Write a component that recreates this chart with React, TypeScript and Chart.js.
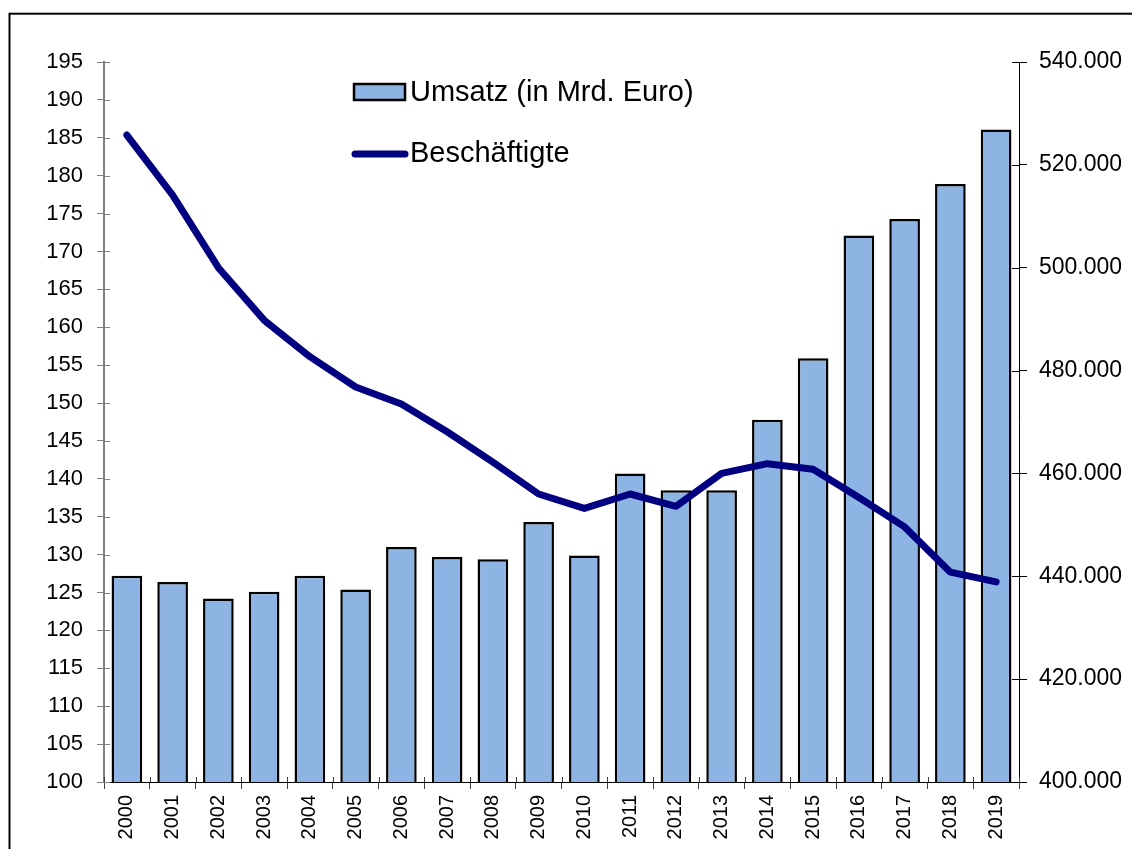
import React, { useEffect, useRef } from "react";
import { Chart, registerables } from "chart.js";

Chart.register(...registerables);

const years = ["2000","2001","2002","2003","2004","2005","2006","2007","2008","2009","2010","2011","2012","2013","2014","2015","2016","2017","2018","2019"];
const umsatz = [127.2,126.4,124.2,125.1,127.2,125.4,131.0,129.7,129.4,134.3,129.9,140.7,138.5,138.5,147.8,155.9,172.1,174.3,178.9,186.1];
const beschaeftigte = [525800,514100,500000,489800,482700,476800,473500,468100,462200,456000,453200,456000,453600,460000,461900,460800,455300,449600,440800,438900];

const leftMin = 100, leftMax = 195, leftStep = 5;
const rightMin = 400000, rightMax = 540000, rightStep = 20000;

const FONT = "'Liberation Sans', Arial, sans-serif";
const BAR_COLOR = "#8EB4E3";
const LINE_COLOR = "#000080";

const fmtDE = (v: number) => v.toLocaleString("de-DE");

const framePlugin = {
  id: "frame",
  beforeDraw(chart: any) {
    const ctx = chart.ctx;
    ctx.save();
    ctx.fillStyle = "#ffffff";
    ctx.fillRect(0, 0, chart.width, chart.height);
    ctx.strokeStyle = "#000000";
    ctx.lineWidth = 2;
    ctx.strokeRect(9.5, 13.7, chart.width + 50, chart.height + 50);
    ctx.restore();
  },
};

const innerTicksPlugin = {
  id: "innerTicks",
  afterDatasetsDraw(chart: any) {
    const ctx = chart.ctx;
    ctx.save();
    ctx.lineWidth = 1;
    const yl = chart.scales.y;
    const yr = chart.scales.y1;
    const xs = chart.scales.x;
    ctx.strokeStyle = "#808080";
    yl.ticks.forEach((_t: any, i: number) => {
      const p = Math.round(yl.getPixelForTick(i)) + 0.5;
      ctx.beginPath();
      ctx.moveTo(yl.right, p);
      ctx.lineTo(yl.right + 6, p);
      ctx.stroke();
    });
    ctx.strokeStyle = "#000000";
    yr.ticks.forEach((_t: any, i: number) => {
      const p = Math.round(yr.getPixelForTick(i)) + 0.5;
      ctx.beginPath();
      ctx.moveTo(yr.left - 7, p);
      ctx.lineTo(yr.left, p);
      ctx.stroke();
    });
    ctx.strokeStyle = "#404040";
    for (let i = 0; i <= years.length; i++) {
      const px = Math.round(xs.getPixelForValue(i - 0.5)) + 0.5;
      ctx.beginPath();
      ctx.moveTo(px, xs.top - 5);
      ctx.lineTo(px, xs.top);
      ctx.stroke();
    }
    ctx.restore();
  },
};

const legendPlugin = {
  id: "customLegend",
  afterDraw(chart: any) {
    const ctx = chart.ctx;
    const ds = chart.data.datasets;
    ctx.save();
    ctx.font = `29px ${FONT}`;
    ctx.textBaseline = "middle";
    // bar item
    ctx.fillStyle = ds[1].backgroundColor;
    ctx.fillRect(354, 84, 51, 16);
    ctx.strokeStyle = "#000000";
    ctx.lineWidth = 2.5;
    ctx.strokeRect(354, 84, 51, 16);
    ctx.fillStyle = "#000000";
    ctx.fillText(ds[1].label, 410, 93);
    // line item
    ctx.strokeStyle = ds[0].borderColor;
    ctx.lineWidth = 7;
    ctx.lineCap = "round";
    ctx.beginPath();
    ctx.moveTo(355, 154);
    ctx.lineTo(405, 154);
    ctx.stroke();
    ctx.fillText(ds[0].label, 410, 154);
    ctx.restore();
  },
};

export default function App() {
  const ref = useRef<HTMLCanvasElement>(null);
  useEffect(() => {
    if (!ref.current) return;
    const chart = new Chart(ref.current, {
      type: "bar",
      data: {
        labels: years,
        datasets: [
          {
            type: "line",
            label: "Beschäftigte",
            data: beschaeftigte,
            yAxisID: "y1",
            borderColor: LINE_COLOR,
            backgroundColor: LINE_COLOR,
            borderWidth: 7,
            pointRadius: 0,
            tension: 0,
            borderCapStyle: "round",
            borderJoinStyle: "round",
            order: 0,
          } as any,
          {
            type: "bar",
            label: "Umsatz (in Mrd. Euro)",
            data: umsatz,
            yAxisID: "y",
            backgroundColor: BAR_COLOR,
            borderColor: "#000000",
            borderWidth: 2.5,
            borderSkipped: false,
            barPercentage: 0.67,
            categoryPercentage: 1,
            order: 1,
          } as any,
        ],
      },
      options: {
        responsive: false,
        animation: false,
        layout: { padding: { top: 62, left: 0, right: 0, bottom: 0 } },
        plugins: {
          legend: { display: false },
          tooltip: { enabled: false },
        },
        scales: {
          x: {
            offset: true,
            grid: {
              offset: true,
              drawOnChartArea: false,
              drawTicks: true,
              tickLength: 7,
              color: "#404040",
            },
            border: { display: true, color: "#000000", width: 1 },
            ticks: {
              autoSkip: false,
              minRotation: 90,
              maxRotation: 90,
              padding: 6,
              color: "#000000",
              font: { family: FONT, size: 20 },
            },
            afterFit: (s: any) => { s.height = 67; },
          },
          y: {
            position: "left",
            min: leftMin,
            max: leftMax,
            ticks: {
              stepSize: leftStep,
              padding: 14,
              color: "#000000",
              font: { family: FONT, size: 22 },
            },
            grid: {
              drawOnChartArea: false,
              tickLength: 7,
              color: "#808080",
            },
            border: { display: true, color: "#808080", width: 2 },
            afterFit: (s: any) => { s.width = 104; },
          },
          y1: {
            position: "right",
            min: rightMin,
            max: rightMax,
            ticks: {
              stepSize: rightStep,
              padding: 12,
              color: "#000000",
              font: { family: FONT, size: 23 },
              callback: (v: any) => fmtDE(Number(v)),
            },
            grid: {
              drawOnChartArea: false,
              tickLength: 8,
              color: "#000000",
            },
            border: { display: true, color: "#000000", width: 1 },
            afterFit: (s: any) => { s.width = 113; },
          },
        },
      } as any,
      plugins: [framePlugin, innerTicksPlugin, legendPlugin],
    });
    return () => chart.destroy();
  }, []);
  return (
    <canvas
      ref={ref}
      width={1132}
      height={849}
      style={{ position: "absolute", left: 0, top: 0, display: "block" }}
    />
  );
}
